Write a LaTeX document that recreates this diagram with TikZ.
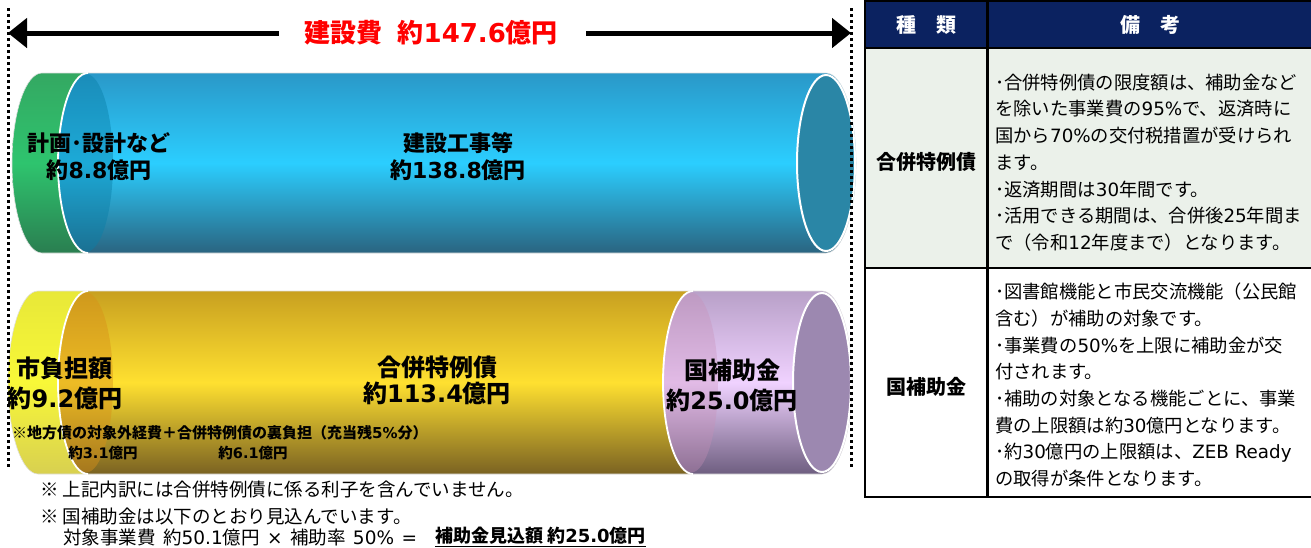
\documentclass[tikz,border=0pt]{standalone}
\usepackage{fontspec}
\setmainfont{Noto Sans CJK JP}
\newfontfamily\lat{DejaVu Sans}
\newcommand\nm[1]{{\lat #1}}
\usetikzlibrary{arrows.meta}
\definecolor{grT}{HTML}{34A862}
\definecolor{grM}{HTML}{2EC46E}
\definecolor{grB}{HTML}{2A7E50}
\definecolor{blT}{HTML}{2A98C8}
\definecolor{blM}{HTML}{2BCEFF}
\definecolor{blB}{HTML}{2A6480}
\definecolor{blFace}{HTML}{0A7FA8}
\definecolor{blEnd}{HTML}{2A86A6}
\definecolor{yeT}{HTML}{E8E838}
\definecolor{yeM}{HTML}{F8F838}
\definecolor{yeB}{HTML}{D8D050}
\definecolor{goT}{HTML}{C8A020}
\definecolor{goM}{HTML}{FFE030}
\definecolor{goB}{HTML}{7A6222}
\definecolor{goFace}{HTML}{D89018}
\definecolor{puT}{HTML}{B8A0C8}
\definecolor{puM}{HTML}{F0D2FF}
\definecolor{puB}{HTML}{6E5E80}
\definecolor{puFace}{HTML}{C890B8}
\definecolor{puEnd}{HTML}{9C88B0}
\definecolor{navy}{HTML}{0B2260}
\definecolor{rowA}{HTML}{EBF1EA}
\definecolor{titleRed}{HTML}{FF0000}
\tikzset{
  segline/.style={draw=black!12, line width=0.6pt},
  whitearc/.style={draw=white, line width=1.8pt},
  lab/.style={align=center, inner sep=0pt, font={\bfseries\fontsize{22}{27}\selectfont}},
  labB/.style={align=center, inner sep=0pt, font={\bfseries\fontsize{24}{30}\selectfont}},
  arr/.style={line width=5pt, -{Triangle[length=19pt,width=29pt]}},
  dotline/.style={line width=3pt, dash pattern=on 3pt off 3pt},
  note/.style={anchor=west, inner sep=0pt, font={\fontsize{18.5}{20}\selectfont}},
  cell/.style={anchor=west, inner sep=0pt, align=left, font={\fontsize{18.3}{26.7}\selectfont}},
  head/.style={inner sep=0pt, text=white, font={\bfseries\fontsize{20}{24}\selectfont}},
  kind/.style={inner sep=0pt, font={\bfseries\fontsize{20}{24}\selectfont}},
}
\begin{document}
\begin{tikzpicture}[x=1pt,y=1pt]
\useasboundingbox (0,0) rectangle (1311,-547);
\clip (0,0) rectangle (1311,-547);

% ---------- top cylinder ----------
\path[segline, top color=grT, bottom color=grB, middle color=grM]
  (42,-73) -- (88,-73) arc[start angle=90,end angle=-90,x radius=30pt,y radius=90pt]
  -- (42,-253) arc[start angle=270,end angle=90,x radius=30pt,y radius=90pt] -- cycle;
\path[segline, top color=blT, bottom color=blB, middle color=blM]
  (88,-73) -- (826,-73) arc[start angle=90,end angle=-90,x radius=30pt,y radius=90pt]
  -- (88,-253) arc[start angle=270,end angle=90,x radius=30pt,y radius=90pt] -- cycle;
\fill[blFace, fill opacity=0.45] (86,-163) ellipse[x radius=27pt, y radius=89pt];
\draw[whitearc] (88,-73) arc[start angle=90,end angle=270,x radius=30pt,y radius=90pt];
\draw[white, line width=2pt, fill=blEnd] (826,-163) ellipse[x radius=29pt, y radius=88pt];

% ---------- bottom cylinder ----------
\path[segline, top color=yeT, bottom color=yeB, middle color=yeM]
  (38,-291) -- (88,-291) arc[start angle=90,end angle=-90,x radius=30pt,y radius=91.5pt]
  -- (38,-474) arc[start angle=270,end angle=90,x radius=30pt,y radius=91.5pt] -- cycle;
\path[segline, top color=goT, bottom color=goB, middle color=goM]
  (88,-291) -- (693,-291) arc[start angle=90,end angle=-90,x radius=30pt,y radius=91.5pt]
  -- (88,-474) arc[start angle=270,end angle=90,x radius=30pt,y radius=91.5pt] -- cycle;
\fill[goFace, fill opacity=0.45] (86,-382.5) ellipse[x radius=27pt, y radius=90pt];
\draw[whitearc] (88,-291) arc[start angle=90,end angle=270,x radius=30pt,y radius=91.5pt];
\path[segline, top color=puT, bottom color=puB, middle color=puM]
  (693,-291) -- (822,-291) arc[start angle=90,end angle=-90,x radius=30pt,y radius=91.5pt]
  -- (693,-474) arc[start angle=270,end angle=90,x radius=30pt,y radius=91.5pt] -- cycle;
\fill[puFace, fill opacity=0.35] (691,-382.5) ellipse[x radius=27pt, y radius=90pt];
\draw[whitearc] (693,-291) arc[start angle=90,end angle=270,x radius=30pt,y radius=91.5pt];
\draw[white, line width=2pt, fill=puEnd] (822,-382.5) ellipse[x radius=29pt, y radius=89.5pt];

% ---------- labels ----------
\node[lab] (plan) at (99,-156.5) {計画･設計など\\約\nm{8.8}億円};
\node[lab] (work) at (458,-156.5) {建設工事等\\約\nm{138.8}億円};
\node[labB] (city) at (65,-383) {市負担額\\約\nm{9.2}億円};
\node[labB, font={\bfseries\fontsize{24}{26}\selectfont}] (bond) at (437,-380.5) {合併特例債\\約\nm{113.4}億円};
\node[labB] (subs) at (732,-385) {国補助金\\約\nm{25.0}億円};
\node[anchor=west, inner sep=0pt, font={\bfseries\fontsize{15}{18}\selectfont}] (sub1) at (12,-433)
  {※地方債の対象外経費＋合併特例債の裏負担（充当残\nm{5\%}分）};
\node[inner sep=0pt, font={\bfseries\fontsize{14.5}{17}\selectfont}] (sub2) at (103,-453) {約\nm{3.1}億円};
\node[inner sep=0pt, font={\bfseries\fontsize{14.5}{17}\selectfont}] (sub3) at (253,-453) {約\nm{6.1}億円};

% ---------- title and arrows ----------
\node[inner sep=0pt, text=titleRed, font={\bfseries\fontsize{26}{30}\selectfont}] (title) at (431,-33)
  {建設費\hspace{0.6em}約\nm{147.6}億円};
\coordinate (aL) at (8,-33);
\coordinate (aR) at (851,-33);
\draw[arr] ([xshift=-25pt]title.west) -- (aL);
\draw[arr] ([xshift=28pt]title.east) -- (aR);

% ---------- dotted bounds ----------
\coordinate (dL1) at (8,-8);
\coordinate (dL2) at (8,-469);
\coordinate (dR1) at (851,-8);
\coordinate (dR2) at (851,-469);
\draw[dotline] (dL1) -- (dL2);
\draw[dotline] (dR1) -- (dR2);

% ---------- footnotes ----------
\node[note] (fn1) at (40,-490) {※ 上記内訳には合併特例債に係る利子を含んでいません。};
\node[note] (fn2) at (40,-516) {※ 国補助金は以下のとおり見込んでいます。};
\node[note] (fn3) at (63,-537) {対象事業費\hspace{.4em}約\nm{50.1}億円\hspace{.4em}\nm{×}\hspace{.4em}補助率\hspace{.4em}\nm{50\%}\hspace{.4em}\nm{=}};
\node[note, font={\bfseries\fontsize{18}{20}\selectfont}] (fn4) at (435,-537) {\underline{補助金見込額 約\nm{25.0}億円}};

% ---------- table ----------
\fill[navy] (865,-1) rectangle (1314,-48);
\fill[rowA] (865,-48) rectangle (1314,-268);
\fill[white] (865,-268) rectangle (1314,-497);
\draw[line width=2.5pt] (865,-1) rectangle (1314,-497);
\draw[line width=2.5pt] (865,-48) -- (1314,-48);
\draw[line width=2.5pt] (865,-268) -- (1314,-268);
\draw[line width=3pt] (987,-1) -- (987,-497);
\node[head] (h1) at (926,-25) {種　類};
\node[head] (h2) at (1150,-25) {備　考};
\node[kind] (k1) at (926,-162) {合併特例債};
\node[kind] (k2) at (926,-387) {国補助金};
\node[cell] (c1) at (995,-162.5) {･合併特例債の限度額は、補助金など\\を除いた事業費の\nm{95\%}で、返済時に\\国から\nm{70\%}の交付税措置が受けられ\\ます。\\･返済期間は\nm{30}年間です。\\･活用できる期間は、合併後\nm{25}年間ま\\で（令和\nm{12}年度まで）となります。};
\node[cell] (c2) at (995,-385) {･図書館機能と市民交流機能（公民館\\含む）が補助の対象です。\\･事業費の\nm{50\%}を上限に補助金が交\\付されます。\\･補助の対象となる機能ごとに、事業\\費の上限額は約\nm{30}億円となります。\\･約\nm{30}億円の上限額は、\nm{ZEB Ready}\\の取得が条件となります。};
\end{tikzpicture}
\end{document}
